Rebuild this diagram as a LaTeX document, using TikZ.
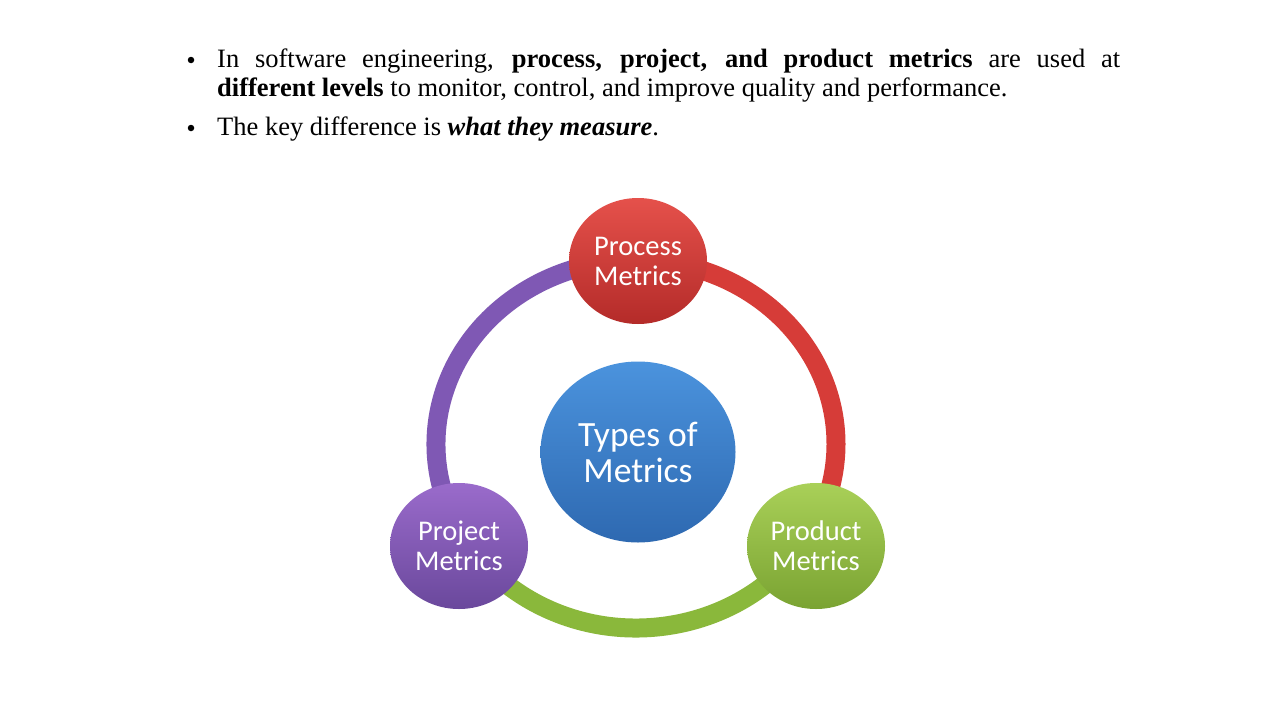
\documentclass[tikz,border=0pt]{standalone}
\usepackage{fontspec}
\setmainfont{Liberation Serif}
\newfontfamily\carlfont{Carlito}
\usetikzlibrary{shapes.geometric}
\definecolor{ringred}{HTML}{D63C38}
\definecolor{ringpurple}{HTML}{7F58B4}
\definecolor{ringgreen}{HTML}{8AB83B}
\definecolor{redtop}{HTML}{E5514B}
\definecolor{redbot}{HTML}{B42B29}
\definecolor{purtop}{HTML}{9A6BCB}
\definecolor{purbot}{HTML}{6A489C}
\definecolor{grntop}{HTML}{A9D058}
\definecolor{grnbot}{HTML}{7AA332}
\definecolor{blutop}{HTML}{4B93DD}
\definecolor{blubot}{HTML}{2E69B1}
\begin{document}
\begin{tikzpicture}[x=1pt,y=-1pt,
  bub/.style={ellipse, inner sep=0pt, text=white, align=center,
    minimum width=138pt, minimum height=126pt,
    font=\carlfont\fontsize{28.5}{30}\selectfont},
  ringarc/.style={line width=19pt},
  bullettext/.style={anchor=base west, text width=903pt, align=justify,
    inner sep=0pt, font=\fontsize{26.5}{29}\selectfont},
  bulletmark/.style={circle, fill=black, inner sep=0pt, minimum size=6.5pt}
]
\useasboundingbox[fill=white] (0,0) rectangle (1280,720);

% bullets
\node[bulletmark] (m1) at (191,60) {};
\node[bullettext] (b1) at (217,67) {In software engineering, \textbf{process, project, and product metrics} are used at\linebreak \textbf{different levels} to monitor, control, and improve quality and performance.};
\node[bulletmark] (m2) at (191,128) {};
\node[bullettext] (b2) at (217,135) {The key difference is \textbf{\textit{what they measure}}.};

% ring geometry
\coordinate (ctr) at (636,444);
\path (ctr) ++(150:200 and 184) coordinate (rP);
\path (ctr) ++(270:200 and 184) coordinate (rR);
\path (ctr) ++(30:200 and 184) coordinate (rG);

% ring arcs between the circles
\draw[ringarc, ringpurple] (rP) arc[start angle=150, end angle=270, x radius=200, y radius=184];
\draw[ringarc, ringred] (rR) arc[start angle=-90, end angle=30, x radius=200, y radius=184];
\draw[ringarc, ringgreen] (rG) arc[start angle=30, end angle=150, x radius=200, y radius=184];

% circles
\node[bub, top color=redtop, bottom color=redbot] (proc) at (638,261) {Process\\Metrics};
\node[bub, top color=purtop, bottom color=purbot] (proj) at (459,546) {Project\\Metrics};
\node[bub, top color=grntop, bottom color=grnbot] (prod) at (816,546) {Product\\Metrics};
\node[bub, top color=blutop, bottom color=blubot, minimum width=195pt, minimum height=181pt,
  font=\carlfont\fontsize{35.5}{36}\selectfont] (types) at (638,452) {Types of\\Metrics};
\end{tikzpicture}
\end{document}
